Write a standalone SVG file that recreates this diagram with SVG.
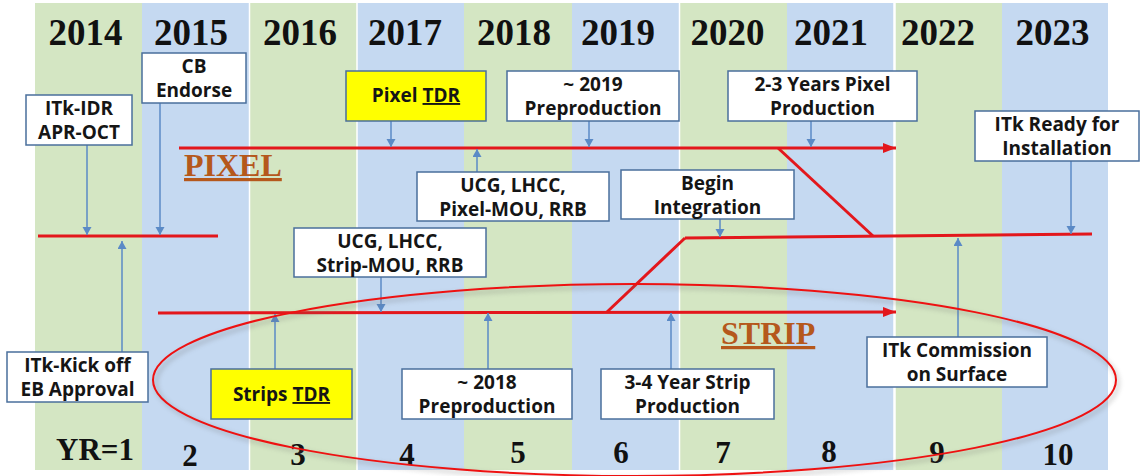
<svg xmlns="http://www.w3.org/2000/svg" width="1143" height="476" viewBox="0 0 1143 476">
  <style>
    .green { fill: #d4e6c3; }
    .blue { fill: #c5d9f1; }
    .sep { stroke: #ffffff; stroke-width: 1.5; }
    .year { font-family: "Liberation Serif", "Times New Roman", serif; font-weight: 700; font-size: 37px; text-anchor: middle; fill: #111111; }
    .yr { font-family: "Liberation Serif", "Times New Roman", serif; font-weight: 700; font-size: 31px; text-anchor: middle; fill: #111111; }
    .box { fill: #ffffff; stroke: #4a6f9c; stroke-width: 1.5; }
    .hl { fill: #ffff00; stroke: #4a6f9c; stroke-width: 1.5; }
    .lbl { font-family: "Open Sans", "Liberation Sans", sans-serif; font-weight: 700; font-size: 19px; text-anchor: middle; fill: #151515; }
    .track { font-family: "Liberation Serif", "Times New Roman", serif; font-weight: 700; font-size: 32px; fill: #b5581c; text-decoration: underline; }
    .red { stroke: #e3171c; stroke-width: 3; fill: none; }
    .ptr { stroke: #5b8ac6; stroke-width: 1.5; fill: none; marker-end: url(#ptrHead); }
  </style>
  <defs>
    <marker id="ptrHead" markerUnits="userSpaceOnUse" markerWidth="10" markerHeight="10" refX="8" refY="4.5" orient="auto">
      <path d="M0,0 L8,4.5 L0,9 z" fill="#5b8ac6"/>
    </marker>
    <marker id="redHead" markerUnits="userSpaceOnUse" markerWidth="14" markerHeight="12" refX="13" refY="5" orient="auto">
      <path d="M0,0 L13,5 L0,10 z" fill="#e3171c"/>
    </marker>
    <filter id="soft" x="-10%" y="-20%" width="120%" height="140%">
      <feGaussianBlur stdDeviation="2.5"/>
    </filter>
  </defs>

  <!-- year columns -->
  <g id="columns">
    <rect class="green" x="35" y="3" width="107" height="467"/>
    <rect class="blue" x="142" y="3" width="108" height="467"/>
    <rect class="green" x="250" y="3" width="107" height="467"/>
    <rect class="blue" x="357" y="3" width="107" height="467"/>
    <rect class="green" x="464" y="3" width="108" height="467"/>
    <rect class="blue" x="572" y="3" width="108" height="467"/>
    <rect class="green" x="680" y="3" width="107" height="467"/>
    <rect class="blue" x="787" y="3" width="108" height="467"/>
    <rect class="green" x="895" y="3" width="107" height="467"/>
    <rect class="blue" x="1002" y="3" width="106" height="467"/>
    <line class="sep" x1="249.5" y1="3" x2="249.5" y2="470"/>
    <line class="sep" x1="357" y1="3" x2="357" y2="470"/>
    <line class="sep" x1="679.5" y1="3" x2="679.5" y2="470"/>
    <line class="sep" x1="894.5" y1="3" x2="894.5" y2="470" style="stroke-width:2.5"/>
  </g>

  <!-- year headings -->
  <g id="years">
    <text class="year" x="85.5" y="45">2014</text>
    <text class="year" x="191" y="45">2015</text>
    <text class="year" x="300" y="45">2016</text>
    <text class="year" x="405" y="45">2017</text>
    <text class="year" x="514" y="45">2018</text>
    <text class="year" x="618" y="45">2019</text>
    <text class="year" x="727.5" y="45">2020</text>
    <text class="year" x="831" y="45">2021</text>
    <text class="year" x="938" y="45">2022</text>
    <text class="year" x="1052.5" y="45">2023</text>
  </g>

  <!-- project year numbers -->
  <g id="year-numbers">
    <text class="yr" x="95" y="460">YR=1</text>
    <text class="yr" x="190" y="466">2</text>
    <text class="yr" x="298" y="465">3</text>
    <text class="yr" x="407" y="465">4</text>
    <text class="yr" x="518" y="463">5</text>
    <text class="yr" x="621" y="463">6</text>
    <text class="yr" x="723" y="463">7</text>
    <text class="yr" x="829" y="462">8</text>
    <text class="yr" x="937" y="463">9</text>
    <text class="yr" x="1058" y="465">10</text>
  </g>

  <!-- track titles -->
  <text id="pixel-title" class="track" x="184" y="176">PIXEL</text>
  <text id="strip-title" class="track" x="721" y="344">STRIP</text>

  <!-- timeline tracks and pointers -->
  <g id="connectors">
    <line class="red" x1="179" y1="148" x2="896" y2="148" marker-end="url(#redHead)"/>
    <line class="red" x1="38" y1="236" x2="218" y2="236"/>
    <line class="red" x1="158" y1="313" x2="896" y2="312" marker-end="url(#redHead)"/>
    <line class="red" x1="778" y1="148" x2="873" y2="236"/>
    <line class="red" x1="685" y1="238" x2="1092" y2="234"/>
    <line class="red" x1="607" y1="312" x2="685" y2="238"/>

    <line class="ptr" x1="87" y1="145" x2="87" y2="235"/>
    <line class="ptr" x1="160" y1="103" x2="160" y2="235"/>
    <line class="ptr" x1="391" y1="121" x2="391" y2="147"/>
    <line class="ptr" x1="589" y1="121" x2="589" y2="147"/>
    <line class="ptr" x1="811" y1="121" x2="811" y2="147"/>
    <line class="ptr" x1="1071" y1="161" x2="1071" y2="234"/>
    <line class="ptr" x1="477" y1="172" x2="477" y2="149"/>
    <line class="ptr" x1="720" y1="219" x2="720" y2="237"/>
    <line class="ptr" x1="381" y1="277" x2="381" y2="312"/>
    <line class="ptr" x1="122" y1="352" x2="122" y2="241"/>
    <line class="ptr" x1="275" y1="369" x2="275" y2="314"/>
    <line class="ptr" x1="488" y1="369" x2="488" y2="313"/>
    <line class="ptr" x1="671" y1="369" x2="671" y2="313"/>
    <line class="ptr" x1="958" y1="337" x2="958" y2="238"/>
  </g>

  <!-- milestone boxes -->
  <g id="itk-idr">
    <rect class="box" x="26" y="95" width="106" height="50"/>
    <text class="lbl" x="79" y="115">ITk-IDR</text>
    <text class="lbl" x="79" y="139">APR-OCT</text>
  </g>
  <g id="cb-endorse">
    <rect class="box" x="142" y="53" width="104" height="50"/>
    <text class="lbl" x="194" y="73">CB</text>
    <text class="lbl" x="194" y="97">Endorse</text>
  </g>
  <g id="pixel-tdr">
    <rect class="hl" x="346" y="71" width="140" height="50"/>
    <text class="lbl" x="416" y="102">Pixel <tspan text-decoration="underline">TDR</tspan></text>
  </g>
  <g id="pixel-preproduction">
    <rect class="box" x="507" y="71" width="172" height="50"/>
    <text class="lbl" x="593" y="91">~ 2019</text>
    <text class="lbl" x="593" y="115">Preproduction</text>
  </g>
  <g id="pixel-production">
    <rect class="box" x="728" y="71" width="189" height="50"/>
    <text class="lbl" x="822.5" y="91">2-3 Years Pixel</text>
    <text class="lbl" x="822.5" y="115">Production</text>
  </g>
  <g id="itk-ready">
    <rect class="box" x="975" y="111" width="164" height="50"/>
    <text class="lbl" x="1057" y="131">ITk Ready for</text>
    <text class="lbl" x="1057" y="155">Installation</text>
  </g>
  <g id="pixel-approvals">
    <rect class="box" x="417" y="172" width="192" height="49"/>
    <text class="lbl" x="513" y="192">UCG, LHCC,</text>
    <text class="lbl" x="513" y="216">Pixel-MOU, RRB</text>
  </g>
  <g id="begin-integration">
    <rect class="box" x="621" y="170" width="173" height="49"/>
    <text class="lbl" x="707.5" y="190">Begin</text>
    <text class="lbl" x="707.5" y="214">Integration</text>
  </g>
  <g id="strip-approvals">
    <rect class="box" x="294" y="228" width="192" height="49"/>
    <text class="lbl" x="390" y="248">UCG, LHCC,</text>
    <text class="lbl" x="390" y="272">Strip-MOU, RRB</text>
  </g>
  <g id="itk-kickoff">
    <rect class="box" x="7" y="352" width="141" height="50"/>
    <text class="lbl" x="77.5" y="372">ITk-Kick off</text>
    <text class="lbl" x="77.5" y="396">EB Approval</text>
  </g>
  <g id="strips-tdr">
    <rect class="hl" x="211" y="369" width="141" height="50"/>
    <text class="lbl" x="281.5" y="401">Strips <tspan text-decoration="underline">TDR</tspan></text>
  </g>
  <g id="strip-preproduction">
    <rect class="box" x="402" y="369" width="170" height="50"/>
    <text class="lbl" x="487" y="389">~ 2018</text>
    <text class="lbl" x="487" y="413">Preproduction</text>
  </g>
  <g id="strip-production">
    <rect class="box" x="601" y="369" width="173" height="50"/>
    <text class="lbl" x="687.5" y="389">3-4 Year Strip</text>
    <text class="lbl" x="687.5" y="413">Production</text>
  </g>
  <g id="itk-commission">
    <rect class="box" x="867" y="337" width="180" height="50"/>
    <text class="lbl" x="957" y="357">ITk Commission</text>
    <text class="lbl" x="957" y="381">on Surface</text>
  </g>

  <!-- strip phase outline -->
  <g id="strip-outline">
    <ellipse cx="637" cy="383" rx="481" ry="96" fill="none" stroke="#6b6b6b" stroke-width="3" opacity="0.35" filter="url(#soft)"/>
    <ellipse cx="634.5" cy="380" rx="481.5" ry="96" fill="none" stroke="#ee1111" stroke-width="2"/>
  </g>
</svg>
